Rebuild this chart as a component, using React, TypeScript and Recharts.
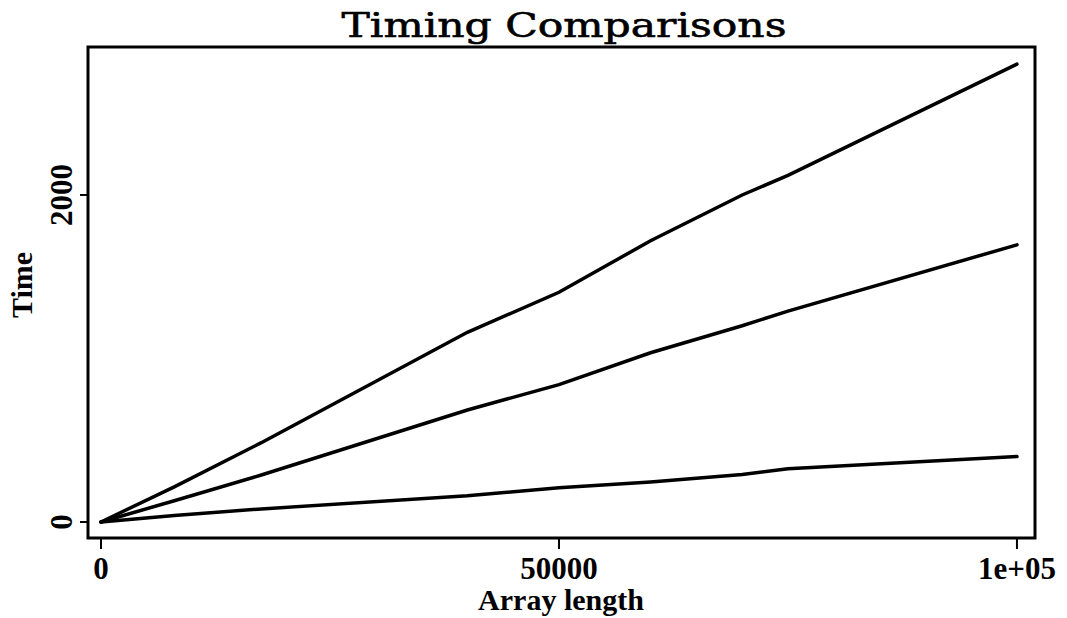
import { LineChart, Line, XAxis, YAxis, ReferenceArea, Label } from "recharts";

// array lengths (x) and timings for the three methods
const lengths = [0, 8000, 17500, 40000, 50000, 60000, 70000, 75000, 100000];
const slowTimes = [0, 215, 485, 1160, 1405, 1720, 2000, 2120, 2800];
const midTimes = [0, 130, 287, 685, 840, 1035, 1200, 1290, 1695];
const fastTimes = [0, 40, 80, 160, 210, 245, 290, 325, 400];

const xTicks = [0, 50000, 100000];
const yTicks = [0, 2000];
const xDomain: [number, number] = [-1420, 101970];
const yDomain: [number, number] = [-98, 2905];

const chartData = lengths.map((len, i) => ({
  len,
  slow: slowTimes[i],
  mid: midTimes[i],
  fast: fastTimes[i],
}));

const tickFont = "'Liberation Serif', 'Times New Roman', serif";

function fmtX(v: number): string {
  return v === 100000 ? "1e+05" : String(v);
}

function XTick(props: any) {
  const { x, payload } = props;
  return (
    <text x={x} y={579} textAnchor="middle" fontFamily={tickFont} fontWeight="bold" fontSize={31} fill="#000">
      {fmtX(payload.value)}
    </text>
  );
}

function YTick(props: any) {
  const { y, payload } = props;
  const bx = 72;
  return (
    <text
      x={bx}
      y={y}
      transform={`rotate(-90 ${bx} ${y})`}
      textAnchor="middle"
      fontFamily={tickFont}
      fontWeight="bold"
      fontSize={31}
      fill="#000"
    >
      {payload.value}
    </text>
  );
}

export default function App() {
  return (
    <div style={{ position: "absolute", left: 0, top: 0, width: 1067, height: 618, background: "#fff" }}>
      <LineChart width={1067} height={618} data={chartData} margin={{ top: 47, right: 32, bottom: 0, left: 0 }}>
        <XAxis
          dataKey="len"
          type="number"
          domain={xDomain}
          ticks={xTicks}
          allowDataOverflow
          height={80}
          axisLine={false}
          tickLine={{ stroke: "#000", strokeWidth: 2 }}
          tickSize={11}
          tick={<XTick />}
        >
          <Label
            content={() => (
              <text x={561} y={610} textAnchor="middle" fontFamily={tickFont} fontWeight="bold" fontSize={30} fill="#000">
                Array length
              </text>
            )}
          />
        </XAxis>
        <YAxis
          type="number"
          domain={yDomain}
          ticks={yTicks}
          allowDataOverflow
          width={88}
          axisLine={false}
          tickLine={{ stroke: "#000", strokeWidth: 2 }}
          tickSize={8}
          tick={<YTick />}
        >
          <Label
            content={() => (
              <text
                x={32}
                y={285}
                transform="rotate(-90 32 285)"
                textAnchor="middle"
                fontFamily={tickFont}
                fontWeight="bold"
                fontSize={30}
                fill="#000"
              >
                Time
              </text>
            )}
          />
        </YAxis>
        <ReferenceArea
          x1={xDomain[0]}
          x2={xDomain[1]}
          y1={yDomain[0]}
          y2={yDomain[1]}
          fill="none"
          fillOpacity={0}
          stroke="#000"
          strokeWidth={3}
          ifOverflow="visible"
        />
        <Line type="linear" dataKey="slow" stroke="#000" strokeWidth={3.5} dot={false} isAnimationActive={false} strokeLinecap="round" />
        <Line type="linear" dataKey="mid" stroke="#000" strokeWidth={3.5} dot={false} isAnimationActive={false} strokeLinecap="round" />
        <Line type="linear" dataKey="fast" stroke="#000" strokeWidth={3.5} dot={false} isAnimationActive={false} strokeLinecap="round" />
      </LineChart>
      <svg width={1067} height={50} style={{ position: "absolute", left: 0, top: 0 }}>
        <text
          x={564}
          y={37}
          textAnchor="middle"
          fontFamily="'DejaVu Serif', serif"
          fontSize={33}
          textLength={445}
          lengthAdjust="spacingAndGlyphs"
          fill="#000"
          stroke="#000"
          strokeWidth={0.6}
        >
          Timing Comparisons
        </text>
      </svg>
    </div>
  );
}
